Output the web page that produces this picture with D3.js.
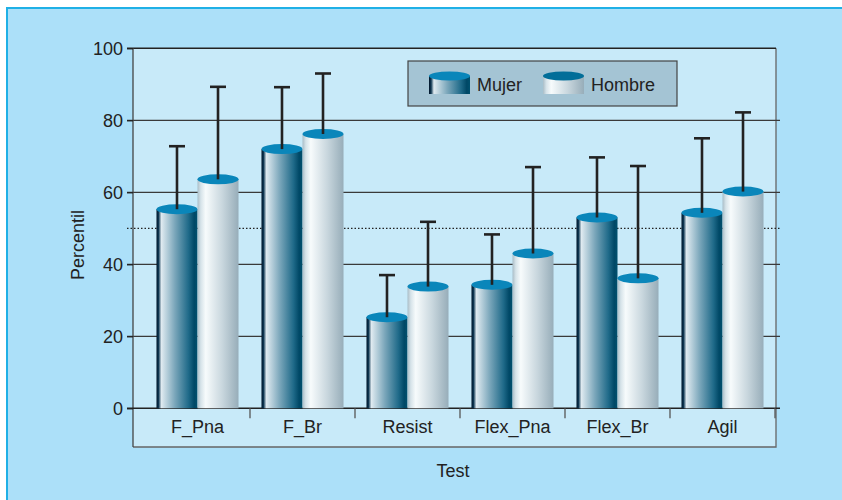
<!DOCTYPE html>
<html>
<head>
<meta charset="utf-8">
<script src="https://cdn.jsdelivr.net/npm/d3@7"></script>
<style>
  html, body { margin: 0; padding: 0; background: #fff; }
  text { font-family: "Liberation Sans", Arial, sans-serif; fill: #222; }
</style>
</head>
<body>
<svg id="chart" width="842" height="500"></svg>
<script>
const CATEGORIES = ["F_Pna", "F_Br", "Resist", "Flex_Pna", "Flex_Br", "Agil"];
const SERIES = ["Mujer", "Hombre"];
const MUJER_MEAN = [55.3, 72, 25.3, 34.3, 53, 54.3];
const MUJER_SD = [17.5, 17.2, 11.7, 14, 16.7, 20.7];
const HOMBRE_MEAN = [63.6, 76.2, 33.8, 43, 36.1, 60.2];
const HOMBRE_SD = [25.7, 16.8, 18, 24, 31.2, 22];
const Y_TICKS = [0, 20, 40, 60, 80, 100];
const REF_LINE = 50;

const rows = [];
CATEGORIES.forEach((c, i) => {
    rows.push({ cat: c, serie: "Mujer", mean: MUJER_MEAN[i], sd: MUJER_SD[i] });
    rows.push({ cat: c, serie: "Hombre", mean: HOMBRE_MEAN[i], sd: HOMBRE_SD[i] });
});

const svg = d3.select("#chart");

// gradients
const defs = svg.append("defs");
const addGrad = (id, stops) => {
    const g = defs.append("linearGradient").attr("id", id)
        .attr("x1", "0%").attr("x2", "100%").attr("y1", "0%").attr("y2", "0%");
    stops.forEach(([o, c]) => g.append("stop").attr("offset", o).attr("stop-color", c));
};
addGrad("g-mujer", [[0, "#00152a"], [0.05, "#0d3550"], [0.12, "#dfeaf0"], [0.45, "#7aa6ba"], [0.78, "#1f6a89"], [0.92, "#004866"], [1, "#00506e"]]);
addGrad("g-hombre", [[0, "#a9bdc7"], [0.08, "#d6e3e9"], [0.2, "#f7fbfc"], [0.6, "#c9d7de"], [1, "#97adb9"]]);
const FILL = { Mujer: "url(#g-mujer)", Hombre: "url(#g-hombre)" };
const TOP = { Mujer: "#0a86ba", Hombre: "#0a86ba" };
const LEG_TOP = { Mujer: "#0a86ba", Hombre: "#026e99" };

// frame
svg.append("rect").attr("x", 7).attr("y", 8).attr("width", 842).attr("height", 500)
    .attr("fill", "#ace0f9").attr("stroke", "#1fb0e6").attr("stroke-width", 2);

const x0 = d3.scaleBand().domain(CATEGORIES).range([145, 775]).padding(0);
const x1 = d3.scaleBand().domain(SERIES).range([0, x0.bandwidth()]).paddingInner(0).paddingOuter(0.28);
const y = d3.scaleLinear().domain([0, 100]).range([408.3, 48.3]);

// panel
svg.append("rect").attr("x", 133).attr("y", y(100)).attr("width", 776 - 133).attr("height", 447 - y(100))
    .attr("fill", "#c8eaf9").attr("stroke", "none");
svg.append("path").attr("d", `M776,${y(100)}V447H133`).attr("fill", "none").attr("stroke", "#666").attr("stroke-width", 1.3);

// gridlines
svg.append("g").selectAll("line").data(Y_TICKS.filter((t) => t > 0 && t < 100)).join("line")
    .attr("x1", 127).attr("x2", 780).attr("y1", (d) => y(d)).attr("y2", (d) => y(d))
    .attr("stroke", "#3a3a3a").attr("stroke-width", 1.2);
svg.append("line").attr("x1", 127).attr("x2", 776).attr("y1", y(100)).attr("y2", y(100))
    .attr("stroke", "#222").attr("stroke-width", 1.4);
svg.append("line").attr("x1", 127).attr("x2", 780).attr("y1", y(REF_LINE)).attr("y2", y(REF_LINE))
    .attr("stroke", "#222").attr("stroke-width", 1.3).attr("stroke-dasharray", "1.5,2");

// y axis
const yAxis = svg.append("g").attr("transform", "translate(133,0)")
    .call(d3.axisLeft(y).tickValues(Y_TICKS).tickSize(6).tickPadding(4).tickFormat(d3.format("d")));
yAxis.select(".domain").attr("d", `M0,${y(100)}V447`).attr("stroke", "#444").attr("stroke-width", 1.3);
yAxis.selectAll(".tick line").attr("stroke", "#222").attr("stroke-width", 1.3);
yAxis.selectAll(".tick text").attr("font-size", 18).attr("fill", "#222")
    .style("font-family", "'Liberation Sans', Arial, sans-serif");

// x axis
svg.append("line").attr("x1", 127).attr("x2", 780).attr("y1", y(0)).attr("y2", y(0))
    .attr("stroke", "#222").attr("stroke-width", 1.4);
svg.append("g").selectAll("line").data(CATEGORIES.slice(1).concat(["end"])).join("line")
    .attr("x1", (d, i) => x0.range()[0] + x0.step() * (i + 1))
    .attr("x2", (d, i) => x0.range()[0] + x0.step() * (i + 1))
    .attr("y1", y(0)).attr("y2", y(0) + 10)
    .attr("stroke", "#555").attr("stroke-width", 1.3);
svg.append("g").selectAll("text").data(CATEGORIES).join("text")
    .attr("x", (d) => x0(d) + x0.bandwidth() / 2).attr("y", 433)
    .attr("text-anchor", "middle").attr("font-size", 18).text((d) => d);

// bars (cylinders)
const ry = 5;
const bars = svg.append("g").selectAll("g").data(rows).join("g")
    .attr("transform", (d) => `translate(${x0(d.cat) + x1(d.serie)},0)`);
bars.append("rect").attr("x", 0).attr("y", (d) => y(d.mean))
    .attr("width", x1.bandwidth()).attr("height", (d) => y(0) - y(d.mean))
    .attr("fill", (d) => FILL[d.serie]);
bars.append("ellipse").attr("cx", x1.bandwidth() / 2).attr("cy", (d) => y(d.mean))
    .attr("rx", x1.bandwidth() / 2).attr("ry", ry).attr("fill", (d) => TOP[d.serie]);

// error bars
const err = svg.append("g").selectAll("g").data(rows).join("g")
    .attr("transform", (d) => `translate(${x0(d.cat) + x1(d.serie) + x1.bandwidth() / 2},0)`)
    .attr("stroke", "#222").attr("stroke-width", 2.6);
err.append("line").attr("x1", 0).attr("x2", 0)
    .attr("y1", (d) => y(d.mean)).attr("y2", (d) => y(d.mean + d.sd));
err.append("line").attr("x1", -8).attr("x2", 8)
    .attr("y1", (d) => y(d.mean + d.sd)).attr("y2", (d) => y(d.mean + d.sd));

// legend
const leg = svg.append("g");
leg.append("rect").attr("x", 408).attr("y", 61).attr("width", 269).attr("height", 45)
    .attr("fill", "#a4c4d4").attr("stroke", "#444").attr("stroke-width", 1.2);
const legX = [429, 543];
SERIES.forEach((s, i) => {
    const g = leg.append("g").attr("transform", `translate(${legX[i]},0)`);
    g.append("rect").attr("x", 0).attr("y", 76).attr("width", 41).attr("height", 18).attr("fill", FILL[s]);
    g.append("ellipse").attr("cx", 20.5).attr("cy", 76).attr("rx", 20.5).attr("ry", 4.5).attr("fill", LEG_TOP[s]);
    g.append("text").attr("x", 48).attr("y", 91).attr("font-size", 18).text(s);
});

// axis titles
svg.append("text").attr("x", 453).attr("y", 477).attr("text-anchor", "middle").attr("font-size", 18).text("Test");
svg.append("text").attr("transform", "translate(84,245) rotate(-90)")
    .attr("text-anchor", "middle").attr("font-size", 18).text("Percentil");
</script>
</body>
</html>
